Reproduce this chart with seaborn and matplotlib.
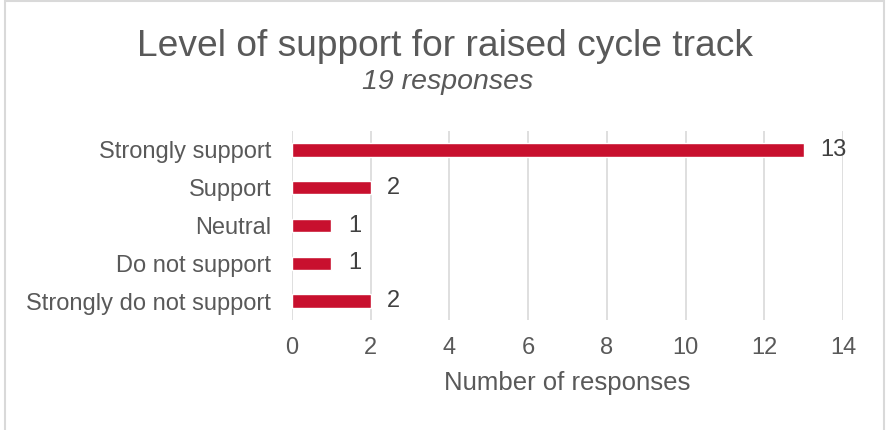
import matplotlib
matplotlib.use("Agg")
import matplotlib.pyplot as plt
import seaborn as sns
import pandas as pd
from matplotlib.patches import Rectangle

categories = ["Strongly support", "Support", "Neutral", "Do not support", "Strongly do not support"]
responses = [13, 2, 1, 1, 2]
x_ticks = [0, 2, 4, 6, 8, 10, 12, 14]

title = "Level of support for raised cycle track"
subtitle = "19 responses"
xlabel = "Number of responses"

sns.set_theme(style="white")
plt.rcParams['font.family'] = ['Liberation Sans', 'DejaVu Sans']

df = pd.DataFrame({"category": categories, "responses": responses})

fig = plt.figure(figsize=(8.86, 4.30), dpi=100)
ax = fig.add_axes([292/886, 1-320/430, 551/886, 189/430])

bar_color = "#C8102E"
text_grey = "#595959"

sns.barplot(data=df, y="category", x="responses", orient="h", color=bar_color,
            width=0.35, ax=ax, saturation=1)

ax.set_xlim(0, 14)
ax.set_ylim(4.5, -0.5)
ax.set_xticks(x_ticks)
ax.set_xticklabels([str(t) for t in x_ticks], fontsize=17, color=text_grey)
ax.set_yticks(range(len(categories)))
ax.set_yticklabels(categories, fontsize=17, color=text_grey)
ax.tick_params(axis="x", length=0, pad=12)
ax.tick_params(axis="y", length=0, pad=15)
ax.xaxis.grid(True, color="#D9D9D9", linewidth=1.2)
ax.yaxis.grid(False)
ax.set_axisbelow(True)
for s in ax.spines.values():
    s.set_visible(False)
ax.set_ylabel("")
ax.set_xlabel(xlabel, fontsize=18.5, color=text_grey, labelpad=9)

for i, v in enumerate(responses):
    ax.text(v + 0.42, i, str(v), va="center", ha="left", fontsize=17, color="#404040")

fig.text(0.502, 1-46/430, title, ha="center", va="center", fontsize=26.7, color=text_grey)
fig.text(0.505, 1-82/430, subtitle, ha="center", va="center", fontsize=20.5, style="italic", color=text_grey)

fig.patches.append(Rectangle((5/886, -0.05), 879/886, 1.05 - 1.5/430, transform=fig.transFigure,
                             fill=False, edgecolor="#D9D9D9", linewidth=1.5))

fig.savefig("out.png", dpi=100, facecolor="white")
